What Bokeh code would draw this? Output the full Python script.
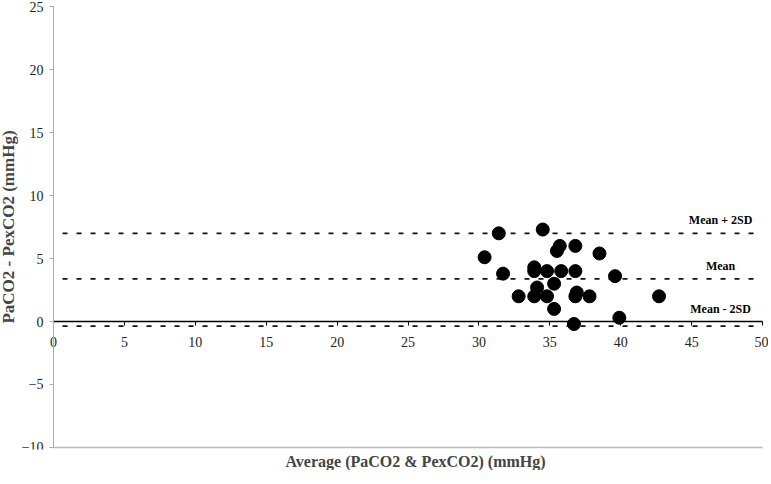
from bokeh.plotting import figure
from bokeh.models import Label, Title, Range1d, FixedTicker, ColumnDataSource
from bokeh.embed import file_html
from bokeh.resources import INLINE

# Data (Bland-Altman plot)
avg_values = [30.4, 31.4, 34.5, 31.7, 35.7, 35.5, 36.8, 38.5, 33.9, 33.9,
              34.8, 35.8, 36.8, 39.6, 35.3, 34.1, 32.8, 33.9, 34.8, 36.9,
              36.8, 37.8, 42.7, 35.3, 39.9, 36.7]
diff_values = [5.1, 7.0, 7.3, 3.8, 6.0, 5.6, 6.0, 5.4, 4.3, 4.0,
               4.0, 4.0, 4.0, 3.6, 3.0, 2.7, 2.0, 2.0, 2.0, 2.3,
               2.0, 2.0, 2.0, 1.0, 0.3, -0.2]
limit_names = ["Mean + 2SD", "Mean", "Mean - 2SD"]
limit_values = [7.0, 3.39, -0.37]
x_ticks = [0, 5, 10, 15, 20, 25, 30, 35, 40, 45, 50]
y_ticks = [-10, -5, 0, 5, 10, 15, 20, 25]

SERIF = "Liberation Serif"

p = figure(frame_width=768, frame_height=449, output_backend="svg", toolbar_location=None,
           x_range=Range1d(-3.74, 50.42), y_range=Range1d(-10.16, 25.48),
           min_border_left=0, min_border_right=0, min_border_top=0, min_border_bottom=0)
p.grid.visible = False
p.outline_line_color = None
p.background_fill_color = "white"
p.border_fill_color = "white"

# x axis crossing at y = 0
xa = p.xaxis[0]
xa.fixed_location = 0
xa.bounds = (x_ticks[0], x_ticks[-1])
xa.ticker = FixedTicker(ticks=x_ticks)
xa.axis_line_color = "black"
xa.axis_line_width = 1.5
xa.major_tick_line_color = "black"
xa.major_tick_in = 0
xa.major_tick_out = 4
xa.minor_tick_line_color = None
xa.major_label_text_font = SERIF
xa.major_label_text_font_size = "14px"
xa.major_label_text_color = "#222222"
xa.major_label_standoff = 11

# y axis at x = 0
ya = p.yaxis[0]
ya.fixed_location = 0
ya.bounds = (y_ticks[0], y_ticks[-1])
ya.ticker = FixedTicker(ticks=y_ticks)
ya.axis_line_color = "#aaaaaa"
ya.major_tick_line_color = "#aaaaaa"
ya.major_tick_in = 0
ya.major_tick_out = 4
ya.minor_tick_line_color = None
ya.major_label_text_font = SERIF
ya.major_label_text_font_size = "14px"
ya.major_label_text_color = "#222222"
ya.major_label_standoff = 6
ya.axis_label = "PaCO2 - PexCO2 (mmHg)"
ya.axis_label_text_font = SERIF
ya.axis_label_text_font_style = "bold"
ya.axis_label_text_font_size = "17px"
ya.axis_label_standoff = 1

# bottom border of the plot area
p.segment(x0=[x_ticks[0]], x1=[x_ticks[-1]], y0=[y_ticks[0]], y1=[y_ticks[0]],
          line_color="#bbbbbb", line_width=1.5)

# limit lines and labels
n = len(limit_values)
p.segment(x0=[x_ticks[0]] * n, x1=[x_ticks[-1]] * n, y0=limit_values, y1=limit_values,
          line_color="#111111", line_width=1.8, line_dash="5 9", line_dash_offset=5)
label_offsets = [13, 13, 17]
for name, val, off in zip(limit_names, limit_values, label_offsets):
    p.add_layout(Label(x=47.04, y=val, y_offset=off, text=name, text_align="center",
                       text_baseline="middle", text_font=SERIF, text_font_style="bold",
                       text_font_size="12px", text_color="black"))

src = ColumnDataSource(dict(x=avg_values, y=diff_values))
p.scatter("x", "y", source=src, size=13, fill_color="black", line_color="black")

p.add_layout(Title(text="Average (PaCO2 & PexCO2) (mmHg)", align="left", offset=285,
                   text_font=SERIF, text_font_style="bold", text_font_size="16px",
                   standoff=2), "below")

open("out.html", "w").write(file_html(p, INLINE))
